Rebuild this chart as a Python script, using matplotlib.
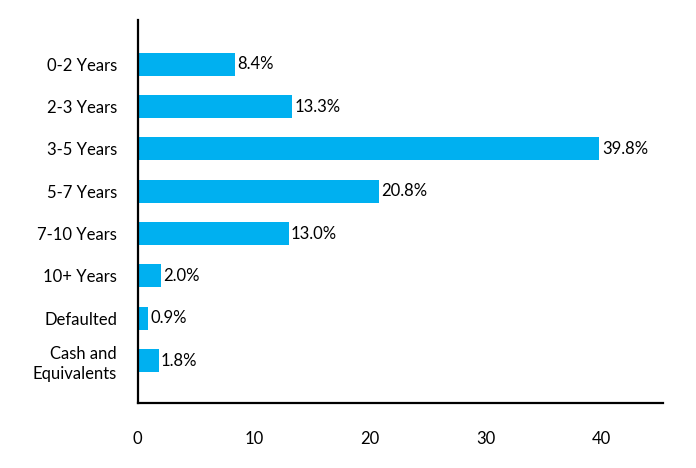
import matplotlib
matplotlib.use("Agg")
import matplotlib.pyplot as plt

categories = ["0-2 Years", "2-3 Years", "3-5 Years", "5-7 Years",
              "7-10 Years", "10+ Years", "Defaulted", "Cash and\nEquivalents"]
values = [8.4, 13.3, 39.8, 20.8, 13.0, 2.0, 0.9, 1.8]
xticks = [0, 10, 20, 30, 40]

plt.rcParams["font.family"] = ["Lato", "DejaVu Sans"]

fig = plt.figure(figsize=(6.96, 4.68), dpi=100)
ax = fig.add_axes([0.198, 0.139, 0.755, 0.818])

y = list(range(len(categories)))
ax.barh(y, values, height=0.54, color="#00B0F0")
for yi, v in zip(y, values):
    ax.text(v + 0.2, yi, f"{v:.1f}%", va="center", ha="left", fontsize=12)

ax.set_xlim(0, 45.3)
ax.set_ylim(8.0, -1.04)
ax.set_yticks(y)
ax.set_yticklabels(categories, fontsize=12, linespacing=1.3)
ax.set_xticks(xticks)
ax.set_xticklabels([str(t) for t in xticks], fontsize=12)
ax.tick_params(axis="both", length=0)
ax.tick_params(axis="x", pad=20)
ax.tick_params(axis="y", pad=15)

for s in ["top", "right"]:
    ax.spines[s].set_visible(False)
for s in ["left", "bottom"]:
    ax.spines[s].set_linewidth(1.6)
    ax.spines[s].set_color("black")

fig.savefig("out.png", dpi=100)
